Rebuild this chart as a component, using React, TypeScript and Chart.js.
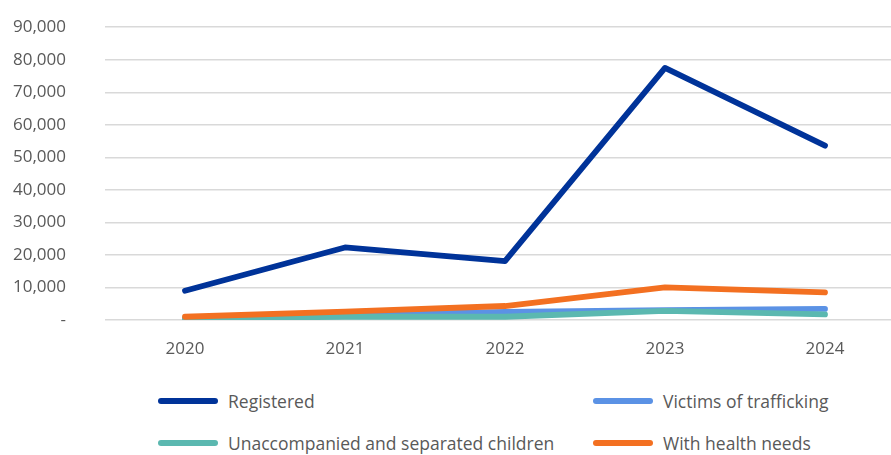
import React, { useEffect, useRef } from "react";
import { Chart, registerables } from "chart.js";

Chart.register(...registerables);

const years = ["2020", "2021", "2022", "2023", "2024"];
const registered = [9000, 22300, 18100, 77500, 53600];
const victims = [500, 1500, 2500, 3000, 3400];
const unaccompanied = [400, 1000, 1000, 2800, 1700];
const healthNeeds = [1000, 2600, 4300, 10000, 8500];

const seriesNames = ["Registered", "Victims of trafficking", "Unaccompanied and separated children", "With health needs"];
const seriesColors = ["#003399", "#5B92E5", "#5BB8B0", "#F37021"];

const FONT = "'Open Sans', sans-serif";
const TEXT = "#595959";

export default function App() {
  const ref = useRef<HTMLCanvasElement>(null);
  useEffect(() => {
    document.body.style.margin = "0";
    const ctx = ref.current!;
    const data = [registered, victims, unaccompanied, healthNeeds];
    const orders = [3, 2, 1, 0];
    const chart = new Chart(ctx, {
      type: "line",
      data: {
        labels: years,
        datasets: data.map((d, i) => ({
          label: seriesNames[i],
          data: d,
          borderColor: seriesColors[i],
          backgroundColor: seriesColors[i],
          borderWidth: 5.8,
          pointRadius: 0,
          tension: 0,
          borderCapStyle: "round" as const,
          borderJoinStyle: "round" as const,
          order: orders[i],
        })),
      },
      options: {
        animation: false,
        responsive: false,
        maintainAspectRatio: false,
        layout: { padding: 0 },
        plugins: { legend: { display: false }, tooltip: { enabled: false } },
        scales: {
          x: {
            offset: true,
            grid: { display: false, drawTicks: false },
            border: { display: false },
            ticks: { color: TEXT, font: { family: FONT, size: 17 }, padding: 19, maxRotation: 0 },
            afterFit: (s: any) => { s.height = 50; },
          },
          y: {
            min: 0,
            max: 90000,
            grid: { color: "#d9d9d9", lineWidth: 1.5, drawTicks: false },
            border: { display: false },
            ticks: {
              stepSize: 10000,
              color: TEXT,
              font: { family: FONT, size: 17 },
              padding: 39,
              callback: (v: any) => (v === 0 ? "-" : Number(v).toLocaleString("en-US")),
            },
            afterFit: (s: any) => { s.width = 105; },
          },
        },
      },
    });
    return () => chart.destroy();
  }, []);

  const legendItem = (i: number, left: number, top: number) => (
    <div key={i} style={{ position: "absolute", left, top, display: "flex", alignItems: "center", height: 24 }}>
      <div style={{ width: 60, height: 6, borderRadius: 3, background: seriesColors[i] }} />
      <span style={{ marginLeft: 10, fontFamily: FONT, fontSize: 17.5, color: TEXT, whiteSpace: "nowrap" }}>{seriesNames[i]}</span>
    </div>
  );

  return (
    <div style={{ position: "fixed", left: 0, top: 0, width: 891, height: 455, overflow: "hidden", background: "#fff" }}>
      <canvas ref={ref} width={905} height={392} style={{ position: "absolute", left: 0, top: -22, width: 905, height: 392 }} />
      {legendItem(0, 158, 389)}
      {legendItem(1, 593, 389)}
      {legendItem(2, 158, 431)}
      {legendItem(3, 593, 431)}
    </div>
  );
}
